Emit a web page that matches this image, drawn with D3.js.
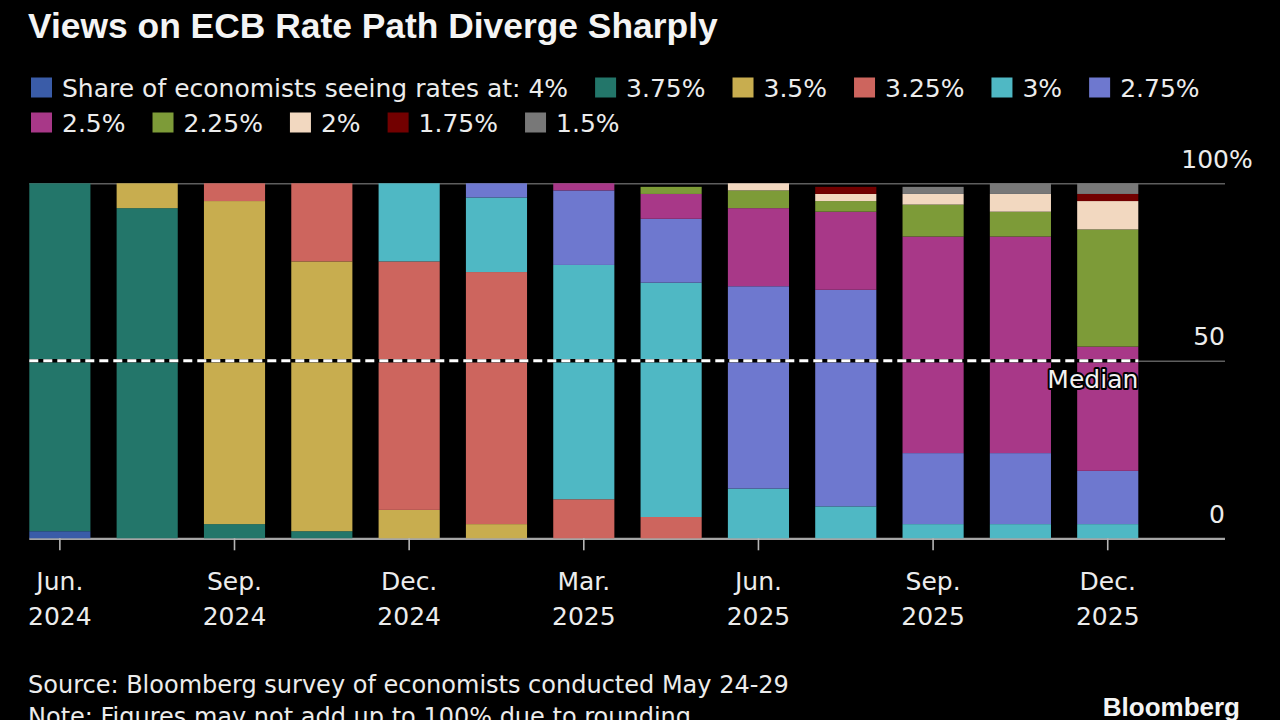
<!DOCTYPE html>
<html>
<head>
<meta charset="utf-8">
<script src="https://cdn.jsdelivr.net/npm/d3@7"></script>
<style>
  html, body { margin: 0; padding: 0; background: #000; }
  svg { display: block; }
</style>
</head>
<body>
<script>
// ---------------- DATA ----------------
const meetings = ["Jun 2024","Jul 2024","Sep 2024","Oct 2024","Dec 2024","Jan 2025","Mar 2025","Apr 2025","Jun 2025","Jul 2025","Sep 2025","Oct 2025","Dec 2025"];
const tickMeetings = ["Jun 2024","Sep 2024","Dec 2024","Mar 2025","Jun 2025","Sep 2025","Dec 2025"];
const tickMonths = ["Jun.","Sep.","Dec.","Mar.","Jun.","Sep.","Dec."];
const tickYears = ["2024","2024","2024","2025","2025","2025","2025"];
const rateLabels = ["4%","3.75%","3.5%","3.25%","3%","2.75%","2.5%","2.25%","2%","1.75%","1.5%"];
const yTicks = [0, 50, 100];
const medianValue = 50;

// share of economists (%) per meeting, one array per rate level
const rate400 = [2, 0, 0, 0, 0, 0, 0, 0, 0, 0, 0, 0, 0];
const rate375 = [98, 93, 4, 2, 0, 0, 0, 0, 0, 0, 0, 0, 0];
const rate350 = [0, 7, 91, 76, 8, 4, 0, 0, 0, 0, 0, 0, 0];
const rate325 = [0, 0, 5, 22, 70, 71, 11, 6, 0, 0, 0, 0, 0];
const rate300 = [0, 0, 0, 0, 22, 21, 66, 66, 14, 9, 4, 4, 4];
const rate275 = [0, 0, 0, 0, 0, 4, 21, 18, 57, 61, 20, 20, 15];
const rate250 = [0, 0, 0, 0, 0, 0, 2, 7, 22, 22, 61, 61, 35];
const rate225 = [0, 0, 0, 0, 0, 0, 0, 2, 5, 3, 9, 7, 33];
const rate200 = [0, 0, 0, 0, 0, 0, 0, 0, 2, 2, 3, 5, 8];
const rate175 = [0, 0, 0, 0, 0, 0, 0, 0, 0, 2, 0, 0, 2];
const rate150 = [0, 0, 0, 0, 0, 0, 0, 0, 0, 0, 2, 3, 3];

// ---------------- STYLE ----------------
const rateColors = ["#3a5ca8","#23766a","#c8ad4f","#cd655e","#4fb8c4","#6e78cf","#a83888","#7d9b38","#f2d8c0","#720000","#787878"];
const FONT = "'DejaVu Sans', sans-serif";
const TXT = "#ececec";

// ---------------- BUILD ----------------
const seriesValues = [rate400, rate375, rate350, rate325, rate300, rate275, rate250, rate225, rate200, rate175, rate150];
const table = meetings.map((m, i) => {
  const row = { meeting: m };
  rateLabels.forEach((r, k) => { row[r] = seriesValues[k][i]; });
  return row;
});
const color = d3.scaleOrdinal().domain(rateLabels).range(rateColors);

const W = 1280, H = 720;
const svg = d3.select("body").append("svg").attr("width", W).attr("height", H)
  .style("background", "#000");

const plotLeft = 29.3, barsRight = 1138.3, gridRight = 1225;
const x = d3.scaleBand().domain(meetings).range([plotLeft, barsRight]).paddingInner(0.3).paddingOuter(0);
const y = d3.scaleLinear().domain([0, 100]).range([538.3, 183.3]);

// Title
svg.append("text").attr("x", 28).attr("y", 38)
  .attr("font-family", "'Liberation Sans', Arial, sans-serif").attr("font-weight", "bold")
  .attr("font-size", 35.4).attr("fill", "#f4f4f4")
  .text("Views on ECB Rate Path Diverge Sharply");

// Legend (flowing)
const legend = svg.append("g").attr("font-family", FONT).attr("font-size", 25).attr("fill", TXT);
let lx = 31, row = 0;
const rowBase = [97, 132];
rateLabels.forEach((r, k) => {
  const label = k === 0 ? "Share of economists seeing rates at: " + r : r;
  const t = legend.append("text").attr("y", rowBase[row]).text(label);
  let w = t.node().getComputedTextLength();
  if (lx + 31 + w > 1245) { row += 1; lx = 31; t.attr("y", rowBase[row]); }
  legend.append("rect").attr("x", lx).attr("y", rowBase[row] - 19.5).attr("width", 21).attr("height", 20)
    .attr("fill", color(r));
  t.attr("x", lx + 31);
  lx = lx + 31 + w + 27;
});

// Y axis with gridlines
const yAxis = svg.append("g").attr("transform", `translate(${gridRight},0)`)
  .call(d3.axisLeft(y).tickValues(yTicks).tickSize(gridRight - plotLeft).tickFormat(d => d));
yAxis.select(".domain").remove();
yAxis.selectAll(".tick line")
  .attr("stroke", d => d === 0 ? "#a5a5a5" : "#5e5e5e")
  .attr("stroke-width", d => d === 0 ? 2.2 : 1.6);
yAxis.selectAll(".tick text")
  .attr("x", d => d === 100 ? 4 : 0).attr("y", -16).attr("dy", 0).attr("text-anchor", "end")
  .attr("font-family", FONT).attr("font-size", 25).attr("fill", TXT);
yAxis.selectAll(".tick").filter(d => d === 100).append("text")
  .attr("x", 4).attr("y", -16).attr("text-anchor", "start")
  .attr("font-family", FONT).attr("font-size", 25).attr("fill", TXT).text("%");

// Stacked bars
const stacked = d3.stack().keys(rateLabels)(table);
svg.append("g").selectAll("g").data(stacked).join("g")
  .attr("fill", s => color(s.key))
  .selectAll("rect").data(s => s.filter(d => d[1] - d[0] > 0)).join("rect")
  .attr("x", d => x(d.data.meeting))
  .attr("y", d => y(d[1]))
  .attr("width", x.bandwidth())
  .attr("height", d => y(d[0]) - y(d[1]));

// X axis
const xAxis = svg.append("g").attr("transform", `translate(0,${y(0)})`)
  .call(d3.axisBottom(x).tickValues(tickMeetings).tickSize(12).tickFormat(""));
xAxis.select(".domain").remove();
xAxis.selectAll(".tick line").attr("stroke", "#b5b5b5").attr("stroke-width", 1.6);
xAxis.selectAll(".tick text").each(function(d) {
  const i = tickMeetings.indexOf(d);
  const t = d3.select(this).attr("y", 0).attr("dy", 0)
    .attr("font-family", FONT).attr("font-size", 25).attr("fill", TXT).text(null);
  t.append("tspan").attr("x", 0).attr("y", 51.7).text(tickMonths[i]);
  t.append("tspan").attr("x", 0).attr("y", 86.7).text(tickYears[i]);
});

// Median line
svg.append("line").attr("x1", plotLeft).attr("x2", barsRight)
  .attr("y1", y(medianValue)).attr("y2", y(medianValue))
  .attr("stroke", "#000").attr("stroke-width", 3.5);
svg.append("line").attr("x1", plotLeft).attr("x2", barsRight)
  .attr("y1", y(medianValue)).attr("y2", y(medianValue))
  .attr("stroke", "#ffffff").attr("stroke-width", 3).attr("stroke-dasharray", "9,5");
svg.append("text").attr("x", barsRight).attr("y", y(medianValue) + 27.5)
  .attr("text-anchor", "end").attr("font-family", FONT).attr("font-size", 25)
  .attr("fill", "#f2f2f2").attr("stroke", "#000").attr("stroke-width", 4)
  .attr("paint-order", "stroke").attr("stroke-linejoin", "round").text("Median");

// Footer
const foot = svg.append("g").attr("font-family", FONT).attr("font-size", 24).attr("fill", TXT);
foot.append("text").attr("x", 28).attr("y", 693).text("Source: Bloomberg survey of economists conducted May 24-29");
foot.append("text").attr("x", 28).attr("y", 725).text("Note: Figures may not add up to 100% due to rounding");
svg.append("text").attr("x", 1240).attr("y", 716).attr("text-anchor", "end")
  .attr("font-family", "'Liberation Sans', Arial, sans-serif").attr("font-weight", "bold")
  .attr("font-size", 26).attr("fill", "#f4f4f4").text("Bloomberg");
</script>
</body>
</html>
